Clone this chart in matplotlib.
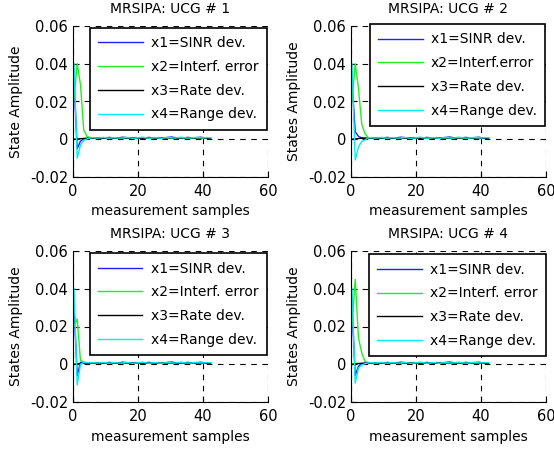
import numpy as np
import matplotlib
matplotlib.use("Agg")
import matplotlib.pyplot as plt

# ---------------- data ----------------
samples = np.arange(0.3, 43)  # 43 measurement samples

# first five samples of each state, per UCG
heads = {
    1: {"x1": [0.031, -0.005, -0.001, 0.0002, 0.0005],
        "x2": [0.021, 0.040, 0.029, 0.005, 0.0015],
        "x3": [0.000, 0.0001, 0.0003, 0.0004, 0.0005],
        "x4": [0.040, -0.010, -0.003, -0.0006, 0.0002]},
    2: {"x1": [0.031, 0.004, 0.0015, 0.0008, 0.0006],
        "x2": [0.020, 0.040, 0.027, 0.008, 0.003],
        "x3": [0.000, 0.0002, 0.0004, 0.0005, 0.0005],
        "x4": [0.040, -0.011, -0.004, -0.0012, -0.0003]},
    3: {"x1": [0.031, -0.006, 0.001, 0.0008, 0.0007],
        "x2": [0.020, 0.024, 0.002, 0.0012, 0.0008],
        "x3": [0.000, 0.0002, 0.0004, 0.0005, 0.0006],
        "x4": [0.040, -0.011, 0.000, 0.0010, 0.0008]},
    4: {"x1": [0.031, -0.006, -0.001, 0.0004, 0.0006],
        "x2": [0.020, 0.045, 0.014, 0.006, 0.0015],
        "x3": [0.000, 0.0002, 0.0004, 0.0005, 0.0005],
        "x4": [0.040, -0.010, -0.002, -0.0004, 0.0003]},
}

# remaining 38 samples (steady state ripple)
tails = {
    "x1": [0.0006, 0.0008, 0.0007, 0.0009, 0.0006, 0.0008, 0.0010, 0.0007, 0.0005, 0.0008,
           0.0011, 0.0009, 0.0006, 0.0007, 0.0009, 0.0008, 0.0005, 0.0007, 0.0010, 0.0008,
           0.0006, 0.0009, 0.0007, 0.0008, 0.0010, 0.0012, 0.0009, 0.0007, 0.0006, 0.0008,
           0.0010, 0.0008, 0.0007, 0.0009, 0.0011, 0.0008, 0.0006, 0.0007],
    "x2": [0.0009, 0.0007, 0.0008, 0.0006, 0.0007, 0.0009, 0.0006, 0.0008, 0.0007, 0.0005,
           0.0008, 0.0006, 0.0009, 0.0008, 0.0006, 0.0007, 0.0009, 0.0006, 0.0005, 0.0007,
           0.0008, 0.0006, 0.0009, 0.0007, 0.0006, 0.0005, 0.0007, 0.0008, 0.0006, 0.0007,
           0.0005, 0.0006, 0.0008, 0.0007, 0.0005, 0.0006, 0.0007, 0.0006],
    "x3": [0.0005, 0.0006, 0.0006, 0.0007, 0.0006, 0.0007, 0.0008, 0.0007, 0.0006, 0.0007,
           0.0008, 0.0007, 0.0006, 0.0007, 0.0008, 0.0007, 0.0006, 0.0006, 0.0007, 0.0008,
           0.0007, 0.0006, 0.0007, 0.0007, 0.0008, 0.0007, 0.0006, 0.0007, 0.0008, 0.0007,
           0.0006, 0.0007, 0.0007, 0.0008, 0.0007, 0.0006, 0.0005, 0.0005],
    "x4": [0.0007, 0.0009, 0.0006, 0.0008, 0.0010, 0.0007, 0.0006, 0.0009, 0.0008, 0.0006,
           0.0007, 0.0010, 0.0008, 0.0005, 0.0007, 0.0009, 0.0011, 0.0008, 0.0006, 0.0007,
           0.0009, 0.0007, 0.0005, 0.0008, 0.0010, 0.0008, 0.0006, 0.0009, 0.0011, 0.0008,
           0.0006, 0.0007, 0.0009, 0.0010, 0.0008, 0.0007, 0.0009, 0.0008],
}

series_keys = ["x1", "x2", "x3", "x4"]
series_colors = {"x1": "#1f1fff", "x2": "#22ee22", "x3": "#000000", "x4": "#00eeee"}

legend_labels = {
    1: ["x1=SINR dev.", "x2=Interf. error", "x3=Rate dev.", "x4=Range dev."],
    2: ["x1=SINR dev.", "x2=Interf.error", "x3=Rate dev.", "x4=Range dev."],
    3: ["x1=SINR dev.", "x2=Interf. error", "x3=Rate dev.", "x4=Range dev."],
    4: ["x1=SINR dev.", "x2=Interf. error", "x3=Rate dev.", "x4=Range dev."],
}
ylabels = {1: "State Amplitude", 2: "States Amplitude",
           3: "States Amplitude", 4: "States Amplitude"}

# ---------------- layout ----------------
W, H = 554, 450
axes_px = {1: (73, 26, 268, 177), 2: (351, 26, 546, 177),
           3: (73, 251, 268, 402), 4: (351, 251, 546, 402)}
legend_anchor = {1: (0.995, 0.987), 2: (0.996, 1.013),
                 3: (0.993, 0.985), 4: (1.0, 0.978)}

fig = plt.figure(figsize=(W / 100, H / 100), dpi=100)

for k in [1, 2, 3, 4]:
    x0, y0, x1, y1 = axes_px[k]
    ax = fig.add_axes([x0 / W, 1 - y1 / H, (x1 - x0) / W, (y1 - y0) / H])
    for key, lab in zip(series_keys, legend_labels[k]):
        vals = heads[k][key] + tails[key]
        ax.plot(samples, vals, color=series_colors[key], lw=1.0, label=lab)

    ax.set_xlim(0, 60)
    ax.set_ylim(-0.02, 0.06)
    ax.set_xticks([0, 20, 40, 60])
    ax.set_yticks([-0.02, 0, 0.02, 0.04, 0.06])
    ax.set_yticklabels(["-0.02", "0", "0.02", "0.04", "0.06"])
    ax.tick_params(direction="in", labelsize=10.5, length=4)
    ax.tick_params(axis="x", pad=5)
    ax.grid(True, color="black", linestyle=(0, (5, 5)), linewidth=0.8)
    ax.spines["top"].set_visible(False)
    ax.spines["right"].set_visible(False)
    ax.set_title("MRSIPA: UCG # %d" % k, fontsize=10, pad=9)
    ax.set_xlabel("measurement samples", fontsize=10, labelpad=4)
    ax.set_ylabel(ylabels[k], fontsize=10, labelpad=5)

    leg = ax.legend(loc="upper right", bbox_to_anchor=legend_anchor[k],
                    fontsize=10, handlelength=3.2, handletextpad=0.6,
                    labelspacing=0.7, borderpad=0.6, framealpha=1,
                    fancybox=False, edgecolor="black", borderaxespad=0)
    leg.get_frame().set_linewidth(1.2)

fig.savefig("out.png", dpi=100)
